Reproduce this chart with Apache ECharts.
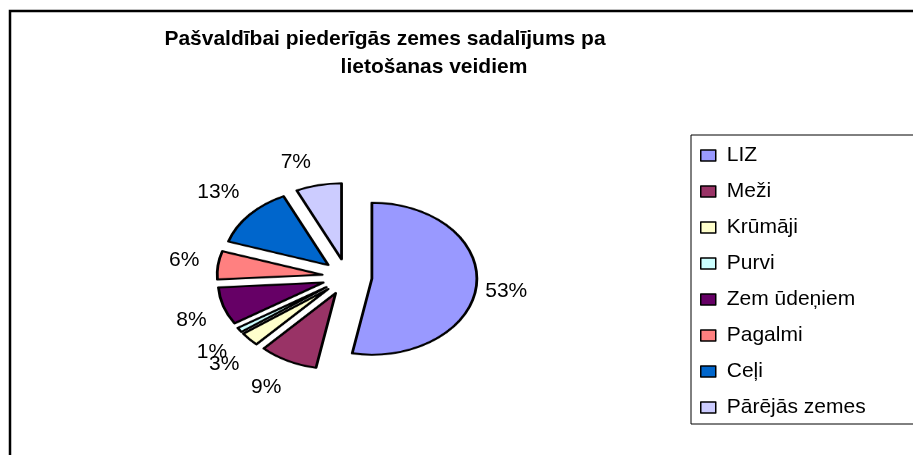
<!DOCTYPE html>
<html><head><meta charset="utf-8">
<script src="https://cdn.jsdelivr.net/npm/echarts@6/dist/echarts.min.js"></script>
<style>
html,body{margin:0;padding:0;background:#fff;}
#wrap{position:relative;width:913px;height:455px;overflow:hidden;background:#fff;}
#pie{position:absolute;left:0;top:0;width:913px;height:455px;transform:scaleY(0.724);transform-origin:347px 277px;}
#main{position:absolute;left:0;top:0;width:913px;height:455px;}
</style></head><body>
<div id="wrap"><div id="pie"></div><div id="main"></div></div>
<script>
const categories = ['LIZ', 'Meži', 'Krūmāji', 'Purvi', 'Zem ūdeņiem', 'Pagalmi', 'Ceļi', 'Pārējās zemes'];
const shares = [53, 9, 3, 1, 8, 6, 13, 7];
const colors = ['#9999FF', '#993366', '#FFFFCC', '#CCFFFF', '#660066', '#FF8080', '#0066CC', '#CCCCFF'];
const titleLines = ['Pašvaldībai piederīgās zemes sadalījums pa', 'lietošanas veidiem'];

const FONT = 'Arial, "Liberation Sans", sans-serif';
const CENTER = [347, 277];
const RADIUS = 105;
const OFFSET = 25;
// label ring: elliptical placement around the (squashed) pie, Excel-like
const LABEL_CENTER = [342, 278];
const LABEL_BASE_R = 100;
const LABEL_RX = 139, LABEL_RY = 118;

const total = shares.reduce((a, b) => a + b, 0);
function midAngles() {
  let acc = 0;
  return shares.map(v => { const m = (acc + v / 2) / total * 2 * Math.PI; acc += v; return m; });
}

// Slices: pie drawn in its own layer, squashed vertically (elliptical Excel pie)
const pieChart = echarts.init(document.getElementById('pie'), null, { renderer: 'canvas' });
pieChart.setOption({
  animation: false,
  series: [{
    type: 'pie',
    center: CENTER,
    radius: RADIUS,
    startAngle: 90,
    clockwise: true,
    selectedMode: 'multiple',
    selectedOffset: OFFSET,
    avoidLabelOverlap: false,
    label: { show: false },
    labelLine: { show: false },
    itemStyle: { borderColor: '#000', borderWidth: 2.8 },
    emphasis: { disabled: true },
    select: { itemStyle: { borderColor: '#000', borderWidth: 2.8 } },
    data: categories.map((c, i) => ({ name: c, value: shares[i], selected: true, itemStyle: { color: colors[i] } }))
  }]
});

// Title, legend, frame and percentage labels
const mids = midAngles();
const labelData = categories.map((c, i) => {
  const s = Math.sin(mids[i]), co = Math.cos(mids[i]);
  const L = Math.sqrt((LABEL_RX * s) ** 2 + (LABEL_RY * co) ** 2);
  return { name: c, value: shares[i], itemStyle: { color: colors[i] }, labelLine: { length: L - LABEL_BASE_R, length2: 0 } };
});

const main = echarts.init(document.getElementById('main'), null, { renderer: 'canvas' });
main.setOption({
  animation: false,
  backgroundColor: 'transparent',
  title: [
    { text: titleLines[0], left: 385, top: 29, textAlign: 'center', padding: 0,
      textStyle: { fontFamily: FONT, fontSize: 21, fontWeight: 'bold', color: '#000' } },
    { text: titleLines[1], left: 434, top: 57, textAlign: 'center', padding: 0,
      textStyle: { fontFamily: FONT, fontSize: 21, fontWeight: 'bold', color: '#000' } }
  ],
  graphic: [{
    type: 'rect', silent: true, z: -10,
    shape: { x: 10, y: 11, width: 1000, height: 1000 },
    style: { fill: 'none', stroke: '#000', lineWidth: 2.5 }
  }],
  legend: {
    orient: 'vertical',
    left: 691, top: 135,
    padding: [10, 90, 6, 9],
    borderColor: '#000', borderWidth: 1,
    itemWidth: 15, itemHeight: 11, itemGap: 15,
    icon: 'rect',
    selectedMode: false,
    itemStyle: { opacity: 1, borderColor: '#000', borderWidth: 1.5 },
    textStyle: { fontFamily: FONT, fontSize: 21, color: '#000', padding: [0, 0, 0, 6] },
    data: categories.map((c, i) => ({ name: c, itemStyle: { color: colors[i], opacity: 1 } }))
  },
  series: [{
    type: 'pie',
    center: LABEL_CENTER,
    radius: LABEL_BASE_R,
    startAngle: 90,
    clockwise: true,
    avoidLabelOverlap: false,
    labelLayout: { hideOverlap: false },
    minShowLabelAngle: 0,
    silent: true,
    itemStyle: { opacity: 0 },
    emphasis: { disabled: true },
    label: {
      show: true, position: 'outside', opacity: 1, color: '#000',
      fontFamily: FONT, fontSize: 21,
      formatter: p => Math.round(p.percent) + '%'
    },
    labelLine: { show: false },
    data: labelData
  }]
});
</script>
</body></html>
